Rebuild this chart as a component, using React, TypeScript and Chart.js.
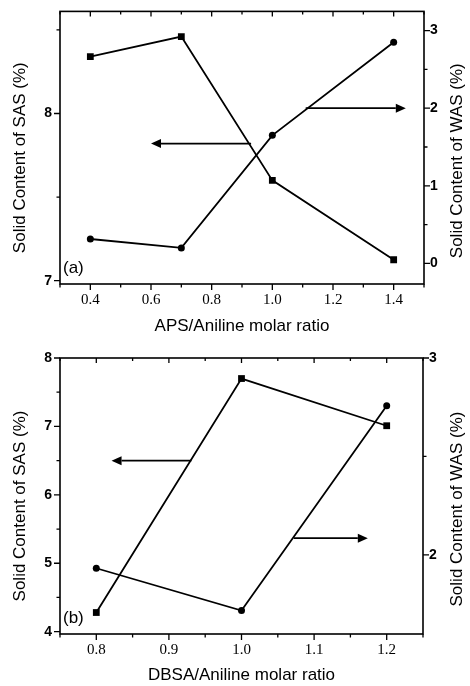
import React, { useEffect, useRef } from "react";
import { Chart, registerables } from "chart.js";

Chart.register(...registerables);

// ---------- Panel (a) data ----------
const apsRatio = [0.4, 0.7, 1.0, 1.4];
const apsSAS = [8.34, 8.46, 7.6, 7.125];
const apsWAS = [0.315, 0.2, 1.65, 2.85];
const apsXTicks = [0.3, 0.4, 0.5, 0.6, 0.7, 0.8, 0.9, 1.0, 1.1, 1.2, 1.3, 1.4, 1.5];
const apsXLabels = [0.4, 0.6, 0.8, 1.0, 1.2, 1.4];
const apsLeftTicks = [7, 7.5, 8, 8.5];
const apsLeftLabels = [7, 8];
const apsRightTicks = [0, 0.5, 1, 1.5, 2, 2.5, 3];
const apsRightLabels = [0, 1, 2, 3];

// ---------- Panel (b) data ----------
const dbsaRatio = [0.8, 1.0, 1.2];
const dbsaSAS = [4.28, 7.7, 7.01];
const dbsaWAS = [1.932, 1.717, 2.757];
const dbsaXTicks = [0.75, 0.8, 0.85, 0.9, 0.95, 1.0, 1.05, 1.1, 1.15, 1.2, 1.25];
const dbsaXLabels = [0.8, 0.9, 1.0, 1.1, 1.2];
const dbsaLeftTicks = [4, 4.5, 5, 5.5, 6, 6.5, 7, 7.5, 8];
const dbsaLeftLabels = [4, 5, 6, 7, 8];
const dbsaRightTicks = [2, 2.5, 3];
const dbsaRightLabels = [2, 3];

const SANS = '"Liberation Sans", Arial, sans-serif';
const SERIF = '"Liberation Serif", "Times New Roman", serif';

type ArrowSpec = { from: number; to: number; y: number; axis: "yL" | "yR" };

type PanelSpec = {
  xs: number[];
  sas: number[];
  was: number[];
  xMin: number; xMax: number;
  lMin: number; lMax: number;
  rMin: number; rMax: number;
  xTicks: number[]; xLabels: number[];
  lTicks: number[]; lLabels: number[];
  rTicks: number[]; rLabels: number[];
  xTitle: string;
  tag: string;
  arrows: ArrowSpec[];
  height: number;
  padTop: number;
  xAxisH: number;
  rightW: number;
  xTitlePad: number;
};

const panelA: PanelSpec = {
  xs: apsRatio, sas: apsSAS, was: apsWAS,
  xMin: 0.3, xMax: 1.5, lMin: 6.98, lMax: 8.611, rMin: -0.265, rMax: 3.247,
  xTicks: apsXTicks, xLabels: apsXLabels,
  lTicks: apsLeftTicks, lLabels: apsLeftLabels,
  rTicks: apsRightTicks, rLabels: apsRightLabels,
  xTitle: "APS/Aniline molar ratio",
  tag: "(a)",
  arrows: [
    { from: 0.93, to: 0.6, y: 7.82, axis: "yL" },
    { from: 1.11, to: 1.44, y: 2.0, axis: "yR" },
  ],
  height: 340, padTop: 10, xAxisH: 56, rightW: 46, xTitlePad: 3,
};

const panelB: PanelSpec = {
  xs: dbsaRatio, sas: dbsaSAS, was: dbsaWAS,
  xMin: 0.75, xMax: 1.25, lMin: 3.966, lMax: 8.0, rMin: 1.598, rMax: 3.0,
  xTicks: dbsaXTicks, xLabels: dbsaXLabels,
  lTicks: dbsaLeftTicks, lLabels: dbsaLeftLabels,
  rTicks: dbsaRightTicks, rLabels: dbsaRightLabels,
  xTitle: "DBSA/Aniline molar ratio",
  tag: "(b)",
  arrows: [
    { from: 0.931, to: 0.821, y: 6.5, axis: "yL" },
    { from: 1.072, to: 1.174, y: 2.085, axis: "yR" },
  ],
  height: 346, padTop: 18, xAxisH: 52, rightW: 47, xTitlePad: 0,
};

const has = (arr: number[], v: number) => arr.some((a) => Math.abs(a - v) < 1e-9);

function decoPlugin(spec: PanelSpec) {
  return {
    id: "deco",
    afterDraw(chart: any) {
      const { ctx, chartArea: ca, scales } = chart;
      ctx.save();
      ctx.strokeStyle = "#000";
      ctx.fillStyle = "#000";
      ctx.lineWidth = 1.6;
      // frame
      ctx.strokeRect(ca.left, ca.top, ca.right - ca.left, ca.bottom - ca.top);
      // tick marks
      ctx.lineWidth = 1.3;
      ctx.beginPath();
      const x = scales.x;
      for (const t of x.ticks) {
        const p = x.getPixelForValue(t.value);
        const major = t.label !== "";
        const len = major ? 6 : 3.5;
        ctx.moveTo(p, ca.bottom);
        ctx.lineTo(p, ca.bottom + len);
        ctx.moveTo(p, ca.top);
        ctx.lineTo(p, ca.top + (major ? 5 : 3));
      }
      const yl = scales.yL;
      for (const t of yl.ticks) {
        const p = yl.getPixelForValue(t.value);
        const len = t.label !== "" ? 6 : 3.5;
        ctx.moveTo(ca.left, p);
        ctx.lineTo(ca.left - len, p);
      }
      const yr = scales.yR;
      for (const t of yr.ticks) {
        const p = yr.getPixelForValue(t.value);
        const len = t.label !== "" ? 6 : 3.5;
        ctx.moveTo(ca.right, p);
        ctx.lineTo(ca.right + len, p);
      }
      ctx.stroke();

      // arrows
      ctx.lineWidth = 1.7;
      for (const a of spec.arrows) {
        const ys = scales[a.axis];
        const py = ys.getPixelForValue(a.y);
        const p0 = x.getPixelForValue(a.from);
        const p1 = x.getPixelForValue(a.to);
        const dir = p1 > p0 ? 1 : -1;
        const headLen = 10;
        ctx.beginPath();
        ctx.moveTo(p0, py);
        ctx.lineTo(p1 - dir * headLen, py);
        ctx.stroke();
        ctx.beginPath();
        ctx.moveTo(p1, py);
        ctx.lineTo(p1 - dir * headLen, py - 4.5);
        ctx.lineTo(p1 - dir * headLen, py + 4.5);
        ctx.closePath();
        ctx.fill();
      }

      // panel tag
      ctx.font = `17px ${SANS}`;
      ctx.textAlign = "left";
      ctx.textBaseline = "middle";
      ctx.fillText(spec.tag, ca.left + 3, ca.bottom - 16);

      // y titles (both read bottom-to-top)
      const midY = (ca.top + ca.bottom) / 2 + 10;
      ctx.font = `17px ${SANS}`;
      ctx.textAlign = "center";
      ctx.textBaseline = "middle";
      ctx.save();
      ctx.translate(20, midY);
      ctx.rotate(-Math.PI / 2);
      ctx.fillText("Solid Content of SAS (%)", 0, 0);
      ctx.restore();
      ctx.save();
      ctx.translate(chart.width - 13, midY + 3);
      ctx.rotate(-Math.PI / 2);
      ctx.fillText("Solid Content of WAS (%)", 0, 0);
      ctx.restore();
      ctx.restore();
    },
  };
}

function buildConfig(spec: PanelSpec): any {
  const pts = (ys: number[]) => spec.xs.map((x, i) => ({ x, y: ys[i] }));
  const gridOpts = {
    display: true,
    drawOnChartArea: false,
    drawTicks: true,
    tickLength: 5,
    tickColor: "rgba(0,0,0,0)",
  };
  return {
    type: "line",
    data: {
      datasets: [
        {
          data: pts(spec.sas),
          yAxisID: "yL",
          borderColor: "#000",
          backgroundColor: "#000",
          borderWidth: 1.8,
          pointStyle: "rect",
          pointRadius: 4.8,
          pointHoverRadius: 4.8,
          pointBorderWidth: 0,
          tension: 0,
          fill: false,
        },
        {
          data: pts(spec.was),
          yAxisID: "yR",
          borderColor: "#000",
          backgroundColor: "#000",
          borderWidth: 1.8,
          pointStyle: "circle",
          pointRadius: 3.5,
          pointHoverRadius: 3.5,
          pointBorderWidth: 0,
          tension: 0,
          fill: false,
        },
      ],
    },
    options: {
      responsive: false,
      animation: false,
      devicePixelRatio: 1,
      events: [],
      layout: { padding: { top: spec.padTop, left: 0, right: 0, bottom: 0 } },
      plugins: { legend: { display: false }, tooltip: { enabled: false } },
      scales: {
        x: {
          type: "linear",
          position: "bottom",
          min: spec.xMin,
          max: spec.xMax,
          afterBuildTicks: (s: any) => {
            s.ticks = spec.xTicks.map((v) => ({ value: v }));
          },
          afterFit: (s: any) => {
            s.height = spec.xAxisH;
          },
          grid: gridOpts,
          border: { display: false },
          ticks: {
            autoSkip: false,
            maxRotation: 0,
            padding: 2,
            color: "#000",
            font: { family: SERIF, size: 15 },
            callback: (v: number) => (has(spec.xLabels, v) ? v.toFixed(1) : ""),
          },
          title: {
            display: true,
            text: spec.xTitle,
            color: "#000",
            font: { family: SANS, size: 17 },
            padding: { top: 0, bottom: spec.xTitlePad },
          },
        },
        yL: {
          type: "linear",
          position: "left",
          min: spec.lMin,
          max: spec.lMax,
          afterBuildTicks: (s: any) => {
            s.ticks = spec.lTicks.map((v) => ({ value: v }));
          },
          afterFit: (s: any) => {
            s.width = 60;
          },
          grid: gridOpts,
          border: { display: false },
          ticks: {
            autoSkip: false,
            padding: 3,
            color: "#000",
            font: { family: SANS, size: 14, weight: "bold" },
            callback: (v: number) => (has(spec.lLabels, v) ? String(v) : ""),
          },
        },
        yR: {
          type: "linear",
          position: "right",
          min: spec.rMin,
          max: spec.rMax,
          afterBuildTicks: (s: any) => {
            s.ticks = spec.rTicks.map((v) => ({ value: v }));
          },
          afterFit: (s: any) => {
            s.width = spec.rightW;
          },
          grid: gridOpts,
          border: { display: false },
          ticks: {
            autoSkip: false,
            padding: 1,
            color: "#000",
            font: { family: SANS, size: 14, weight: "bold" },
            callback: (v: number) => (has(spec.rLabels, v) ? String(v) : ""),
          },
        },
      },
    },
    plugins: [decoPlugin(spec)],
  };
}

function Panel({ spec, top }: { spec: PanelSpec; top: number }) {
  const ref = useRef<HTMLCanvasElement>(null);
  useEffect(() => {
    if (!ref.current) return;
    const chart = new Chart(ref.current, buildConfig(spec));
    return () => chart.destroy();
  }, [spec]);
  return (
    <canvas
      ref={ref}
      width={470}
      height={spec.height}
      style={{ position: "absolute", left: 0, top, width: 470, height: spec.height }}
    />
  );
}

export default function App() {
  return (
    <div
      style={{
        position: "fixed",
        left: 0,
        top: 0,
        width: 470,
        height: 686,
        background: "#fff",
        overflow: "hidden",
      }}
    >
      <Panel spec={panelA} top={0} />
      <Panel spec={panelB} top={340} />
    </div>
  );
}
